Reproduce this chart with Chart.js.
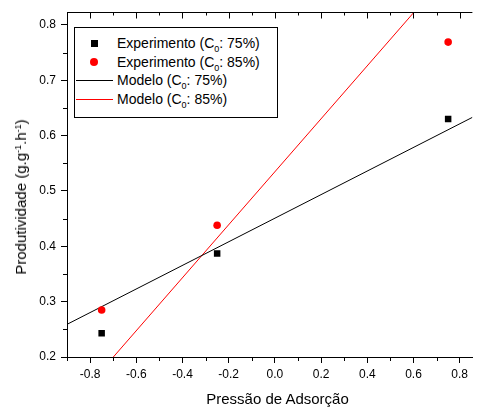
<!DOCTYPE html>
<html>
<head>
<meta charset="utf-8">
<script src="https://cdn.jsdelivr.net/npm/chart.js@4/dist/chart.umd.min.js"></script>
<style>
  body { margin: 0; background: #fff; font-family: "Liberation Sans", Arial, sans-serif; }
  #wrap { position: relative; width: 477px; height: 407px; overflow: hidden; }
  #c { position: absolute; left: 0; top: 0; }
  .lbl { position: absolute; white-space: nowrap; color: #000; line-height: 15px; font-size: 15px; }
  .sub { font-size: 9px; position: relative; top: 4px; }
  .sup { font-size: 9px; position: relative; top: -5px; }
  #legend { position: absolute; left: 74px; top: 27px; width: 202px; height: 89px; border: 1px solid #000; background: #fff; }
  .row { position: absolute; left: 117px; font-size: 14px; line-height: 18.7px; white-space: nowrap; color: #000; }
  .sym { position: absolute; }
</style>
</head>
<body>
<div id="wrap">
  <canvas id="c" width="477" height="407"></canvas>
  <div id="legend"></div>
  <div class="sym" style="left:91px;top:40px;width:7px;height:7px;background:#000"></div>
  <div class="sym" style="left:90px;top:58px;width:8px;height:8px;border-radius:50%;background:#f00"></div>
  <div class="sym" style="left:76px;top:80px;width:37px;height:1px;background:#000"></div>
  <div class="sym" style="left:76px;top:99px;width:37px;height:1px;background:#f00"></div>
  <div class="row" style="top:34px">Experimento (C<span class="sub">0</span>: 75%)</div>
  <div class="row" style="top:52.7px">Experimento (C<span class="sub">0</span>: 85%)</div>
  <div class="row" style="top:71.4px">Modelo (C<span class="sub">0</span>: 75%)</div>
  <div class="row" style="top:90.1px">Modelo (C<span class="sub">0</span>: 85%)</div>
  <div class="lbl" style="left:277.5px;top:397.8px;transform:translate(-50%,-50%)">Pressão de Adsorção</div>
  <div class="lbl" style="left:22px;top:197px;transform:translate(-50%,-50%) rotate(-90deg)">Produtividade (g.g<span class="sup">-1</span>.h<span class="sup">-1</span>)</div>
</div>
<script>
// data
const pressure = [-0.75, -0.25, 0.75];
const exp75 = [0.243, 0.387, 0.630];
const exp85 = [0.285, 0.438, 0.769];
const modelX = [-0.9, 0.855];
const model75 = [0.259, 0.633];
const model85 = [0.104, 0.944];

const xTicks = [-0.8, -0.6, -0.4, -0.2, 0.0, 0.2, 0.4, 0.6, 0.8];
const yTicks = [0.2, 0.3, 0.4, 0.5, 0.6, 0.7, 0.8];
const xMinor = [-0.9, -0.7, -0.5, -0.3, -0.1, 0.1, 0.3, 0.5, 0.7];
const yMinor = [0.25, 0.35, 0.45, 0.55, 0.65, 0.75];

Chart.defaults.font.family = '"Liberation Sans", Arial, sans-serif';
Chart.defaults.color = '#000';

const pts = (xs, ys) => xs.map((x, i) => ({ x: x, y: ys[i] }));

// minor ticks + top axis with inward ticks
const axisExtras = {
  id: 'axisExtras',
  afterDraw(chart) {
    const { ctx, chartArea: a, scales: { x, y } } = chart;
    ctx.save();
    ctx.strokeStyle = '#000';
    ctx.lineWidth = 1;
    ctx.beginPath();
    const top = Math.round(a.top) + 0.5;
    ctx.moveTo(a.left, top);
    ctx.lineTo(a.right, top);
    xTicks.forEach(v => {
      const px = Math.round(x.getPixelForValue(v)) + 0.5;
      ctx.moveTo(px, top); ctx.lineTo(px, top + 6);
    });
    xMinor.forEach(v => {
      const px = Math.round(x.getPixelForValue(v)) + 0.5;
      ctx.moveTo(px, top); ctx.lineTo(px, top + 3);
      ctx.moveTo(px, a.bottom); ctx.lineTo(px, a.bottom + 4);
    });
    yMinor.forEach(v => {
      const py = Math.round(y.getPixelForValue(v)) + 0.5;
      ctx.moveTo(a.left, py); ctx.lineTo(a.left - 4, py);
    });
    ctx.stroke();
    ctx.restore();
  }
};

new Chart(document.getElementById('c'), {
  type: 'scatter',
  data: {
    datasets: [
      { label: 'Experimento (C0: 75%)', data: pts(pressure, exp75), pointStyle: 'rect',
        pointRadius: 4.6, backgroundColor: '#000', borderColor: '#000', borderWidth: 0 },
      { label: 'Experimento (C0: 85%)', data: pts(pressure, exp85), pointStyle: 'circle',
        pointRadius: 3.8, backgroundColor: '#f00', borderColor: '#f00', borderWidth: 0 },
      { label: 'Modelo (C0: 75%)', data: pts(modelX, model75), showLine: true, pointRadius: 0,
        borderColor: '#000', borderWidth: 1 },
      { label: 'Modelo (C0: 85%)', data: pts(modelX, model85), showLine: true, pointRadius: 0,
        borderColor: '#f00', borderWidth: 1 }
    ]
  },
  options: {
    responsive: false,
    animation: false,
    layout: { padding: { top: 12, right: 0, left: 0, bottom: 0 } },
    plugins: { legend: { display: false }, tooltip: { enabled: false } },
    scales: {
      x: {
        type: 'linear', min: -0.9, max: 0.855,
        afterBuildTicks: s => { s.ticks = xTicks.map(v => ({ value: v })); },
        afterFit: s => { s.height = 50; },
        ticks: { font: { size: 12 }, padding: 4, callback: v => v.toFixed(1) },
        grid: { drawOnChartArea: false, color: '#000', tickLength: 6 },
        border: { color: '#000', width: 1 }
      },
      y: {
        type: 'linear', min: 0.2, max: 0.823,
        afterBuildTicks: s => { s.ticks = yTicks.map(v => ({ value: v })); },
        afterFit: s => { s.width = 67; },
        ticks: { font: { size: 12 }, padding: 5, callback: v => v.toFixed(1) },
        grid: { drawOnChartArea: false, color: '#000', tickLength: 6 },
        border: { color: '#000', width: 1 }
      }
    }
  },
  plugins: [axisExtras]
});
</script>
</body>
</html>
